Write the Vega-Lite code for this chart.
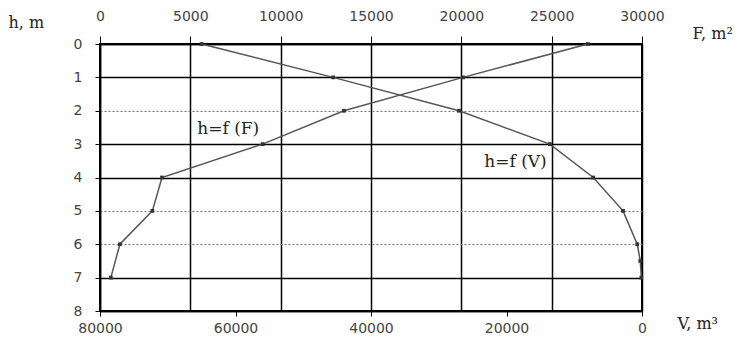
{
  "$schema": "https://vega.github.io/schema/vega-lite/v6.json",
  "width": 542,
  "height": 267,
  "autosize": {"type": "none"},
  "padding": {"left": 100, "top": 44, "right": 105, "bottom": 33},
  "background": "white",
  "config": {
    "view": {"stroke": "black", "strokeWidth": 2},
    "axis": {
      "labelFont": "DejaVu Sans",
      "labelFontSize": 14,
      "labelColor": "#444",
      "titleFont": "DejaVu Serif",
      "titleFontWeight": "normal",
      "titleFontSize": 16,
      "titleColor": "#222",
      "domainColor": "black",
      "domainWidth": 1.5,
      "tickColor": "black",
      "labelFlush": false,
      "labelOverlap": false
    }
  },
  "datasets": {
    "Fdata": [
      {"h": 0, "F": 27000},
      {"h": 1, "F": 20100},
      {"h": 2, "F": 13500},
      {"h": 3, "F": 9000},
      {"h": 4, "F": 3430},
      {"h": 5, "F": 2900},
      {"h": 6, "F": 1100},
      {"h": 7, "F": 600}
    ],
    "Vdata": [
      {"h": 0, "V": 65000},
      {"h": 1, "V": 45600},
      {"h": 2, "V": 27000},
      {"h": 3, "V": 13600},
      {"h": 4, "V": 7200},
      {"h": 5, "V": 2800},
      {"h": 6, "V": 700},
      {"h": 6.5, "V": 250},
      {"h": 7, "V": 100}
    ],
    "labels": [
      {"F": 7100, "h": 2.55, "label": "h=f (F)"},
      {"F": 23000, "h": 3.55, "label": "h=f (V)"}
    ]
  },
  "layer": [
    {
      "encoding": {
        "x": {
          "field": "F",
          "type": "quantitative",
          "scale": {"domain": [0, 30000], "nice": false, "zero": false},
          "axis": {
            "orient": "top",
            "values": [0, 5000, 10000, 15000, 20000, 25000, 30000],
            "format": "d",
            "grid": true,
            "gridColor": "black",
            "gridWidth": 1.5,
            "tickSize": 8,
            "labelPadding": 13,
            "title": "F, m²",
            "titleAngle": 0,
            "titleX": 592,
            "titleY": -11,
            "titleAlign": "left",
            "titleBaseline": "middle"
          }
        },
        "y": {
          "field": "h",
          "type": "quantitative",
          "scale": {"domain": [0, 8], "reverse": true, "nice": false, "zero": false},
          "axis": {
            "orient": "left",
            "values": [0, 1, 2, 3, 4, 5, 6, 7, 8],
            "tickCount": 9,
            "grid": true,
            "gridDash": {"condition": {"test": "datum.value == 2 || datum.value == 5 || datum.value == 6", "value": [2, 2]}, "value": []},
            "gridColor": {"condition": {"test": "datum.value == 2 || datum.value == 5 || datum.value == 6", "value": "#777"}, "value": "black"},
            "gridWidth": {"condition": {"test": "datum.value == 2 || datum.value == 5 || datum.value == 6", "value": 1}, "value": 1.5},
            "tickSize": 5,
            "labelPadding": 13,
            "title": "h, m",
            "titleAngle": 0,
            "titleX": -92,
            "titleY": -22,
            "titleAlign": "left",
            "titleBaseline": "middle"
          }
        }
      },
      "layer": [
        {
          "data": {"name": "Fdata"},
          "mark": {"type": "line", "color": "#555", "strokeWidth": 1.5},
          "encoding": {"order": {"field": "h", "type": "quantitative"}}
        },
        {
          "data": {"name": "Fdata"},
          "mark": {"type": "square", "color": "#333", "size": 14, "opacity": 1}
        },
        {
          "data": {"name": "labels"},
          "mark": {"type": "text", "font": "DejaVu Serif", "fontSize": 17, "color": "#222", "align": "center", "baseline": "middle"},
          "encoding": {"text": {"field": "label"}}
        }
      ]
    },
    {
      "data": {"name": "Vdata"},
      "encoding": {
        "x": {
          "field": "V",
          "type": "quantitative",
          "scale": {"domain": [0, 80000], "reverse": true, "nice": false, "zero": false},
          "axis": {
            "orient": "bottom",
            "values": [0, 20000, 40000, 60000, 80000],
            "format": "d",
            "grid": false,
            "tickSize": 5,
            "labelPadding": 5,
            "title": "V, m³",
            "titleAngle": 0,
            "titleX": 577,
            "titleY": 12,
            "titleAlign": "left",
            "titleBaseline": "middle"
          }
        },
        "y": {
          "field": "h",
          "type": "quantitative",
          "scale": {"domain": [0, 8], "reverse": true, "nice": false, "zero": false},
          "axis": {
            "orient": "left",
            "values": [0, 1, 2, 3, 4, 5, 6, 7, 8],
            "tickCount": 9,
            "grid": true,
            "gridDash": {"condition": {"test": "datum.value == 2 || datum.value == 5 || datum.value == 6", "value": [2, 2]}, "value": []},
            "gridColor": {"condition": {"test": "datum.value == 2 || datum.value == 5 || datum.value == 6", "value": "#777"}, "value": "black"},
            "gridWidth": {"condition": {"test": "datum.value == 2 || datum.value == 5 || datum.value == 6", "value": 1}, "value": 1.5},
            "tickSize": 5,
            "labelPadding": 13,
            "title": "h, m",
            "titleAngle": 0,
            "titleX": -92,
            "titleY": -22,
            "titleAlign": "left",
            "titleBaseline": "middle"
          }
        }
      },
      "layer": [
        {
          "mark": {"type": "line", "color": "#555", "strokeWidth": 1.5},
          "encoding": {"order": {"field": "h", "type": "quantitative"}}
        },
        {
          "mark": {"type": "square", "color": "#333", "size": 14, "opacity": 1}
        }
      ]
    }
  ],
  "resolve": {"scale": {"x": "independent"}, "axis": {"x": "independent"}}
}
